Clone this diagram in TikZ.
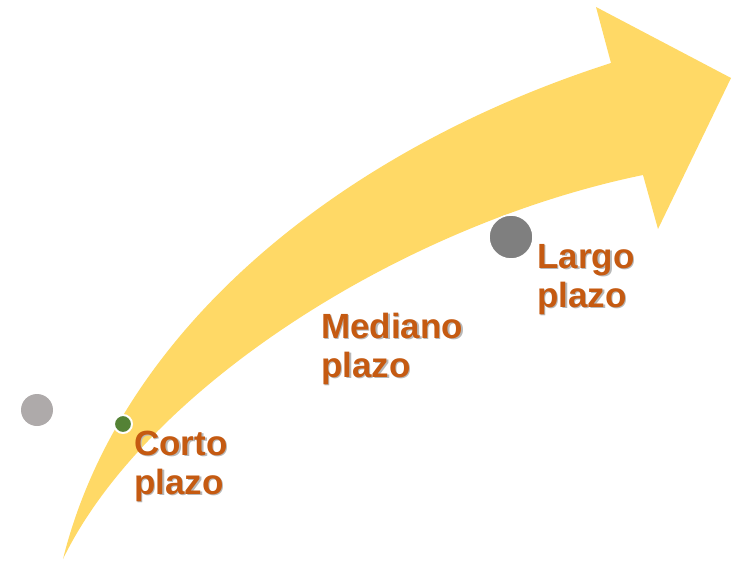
\documentclass[tikz,border=0pt]{standalone}
\usepackage{fontspec}
\setmainfont{Liberation Sans}
\definecolor{arrowyellow}{HTML}{FFD966}
\definecolor{txtorange}{HTML}{C55A11}
\definecolor{dotgreen}{HTML}{548235}
\definecolor{dotgray}{HTML}{7F7F7F}
\definecolor{dotlight}{HTML}{AEAAAA}
\newcommand{\shd}[1]{\makebox[0pt][l]{\hspace{1.6pt}\raisebox{-1.6pt}{\textcolor{black!28}{#1}}}#1}
\begin{document}
\begin{tikzpicture}[x=1pt,y=-1pt,
  lbl/.style={font=\bfseries\fontsize{35}{39}\selectfont, text=txtorange, align=left, inner sep=0pt, anchor=base west},
  dot/.style={circle, inner sep=0pt, draw=white}]
\useasboundingbox (0,0) rectangle (744,560);
\fill[arrowyellow] (63,559) .. controls (120,330) and (340,150) .. (611,63)
  -- (596,7) -- (731,78) -- (658,229) -- (643,175)
  .. controls (400,225) and (145,390) .. (63,559) -- cycle;
\node[dot, fill=dotlight, draw=none, minimum size=32pt] (d0) at (37,410) {};
\node[dot, fill=dotgreen, line width=2pt, minimum size=18pt] (d1) at (123,424) {};
\node[dot, fill=dotgray, line width=1.5pt, minimum size=44pt] (d3) at (511,237) {};
\node[lbl] (t1) at (134,494) {\shd{Corto}\\\shd{plazo}};
\node[lbl] (t2) at (321,377) {\shd{Mediano}\\\shd{plazo}};
\node[lbl] (t3) at (537,307) {\shd{Largo}\\\shd{plazo}};
\end{tikzpicture}
\end{document}
